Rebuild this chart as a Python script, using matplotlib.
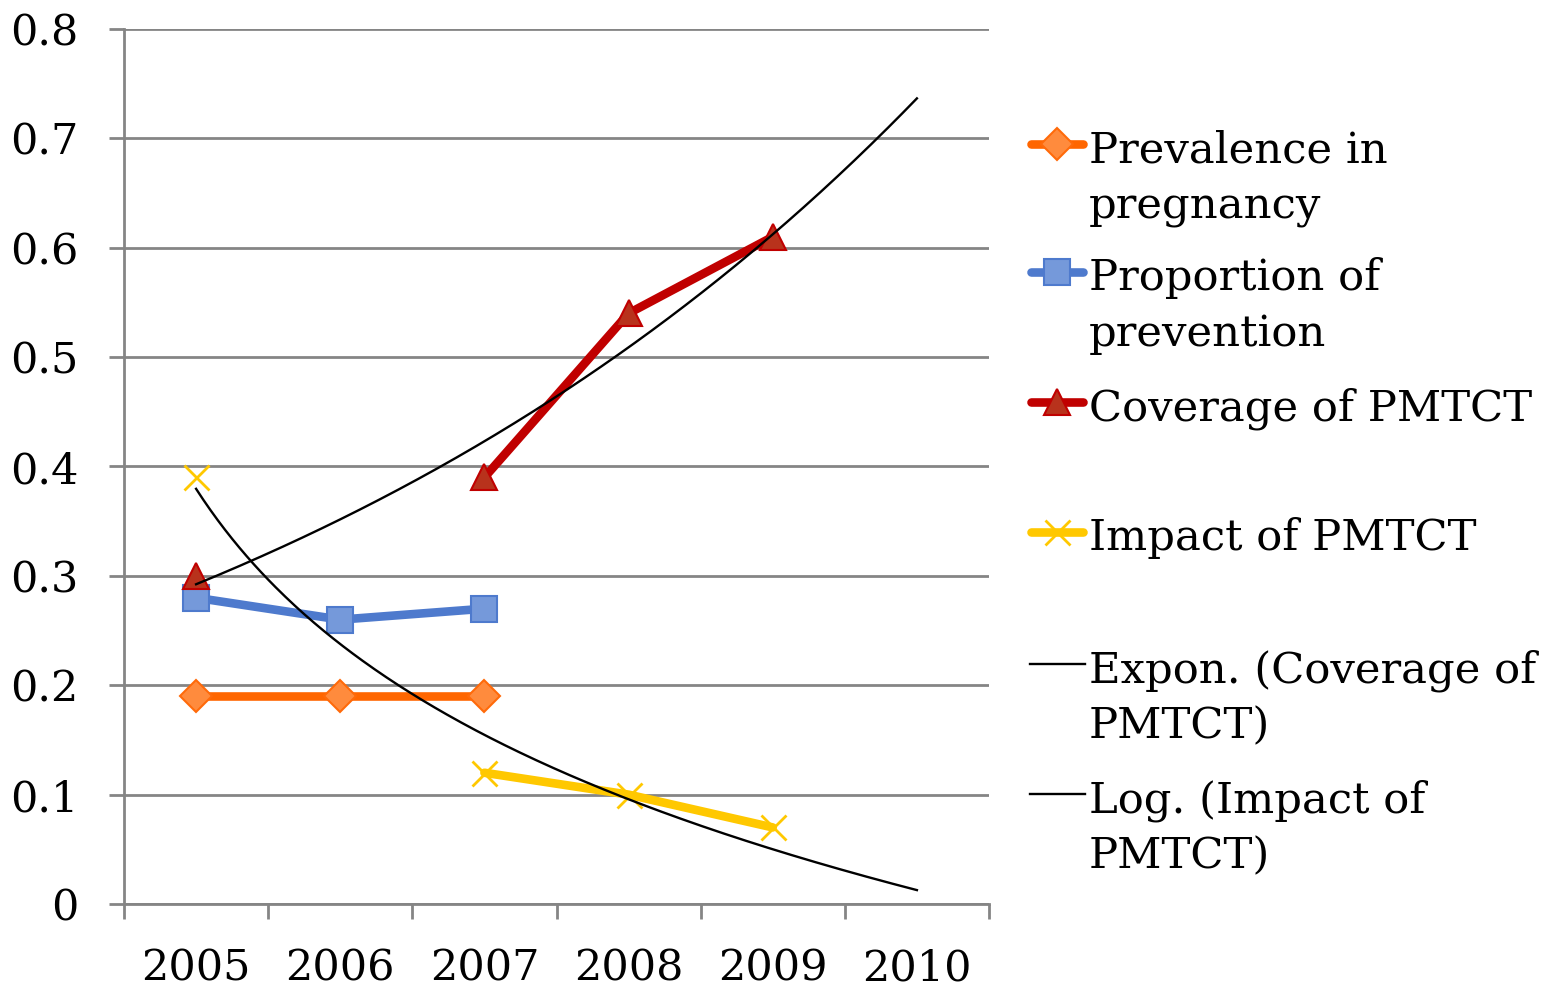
import numpy as np
import matplotlib
matplotlib.use("Agg")
import matplotlib.pyplot as plt
from matplotlib.lines import Line2D

# ---- data ----
years = ["2005", "2006", "2007", "2008", "2009", "2010"]
prevalence = [0.19, 0.19, 0.19, None, None, None]
proportion = [0.28, 0.26, 0.27, None, None, None]
coverage = [0.30, None, 0.39, 0.54, 0.61, None]
impact = [0.39, None, 0.12, 0.10, 0.07, None]
y_ticks = [0.0, 0.1, 0.2, 0.3, 0.4, 0.5, 0.6, 0.7, 0.8]
y_tick_labels = ["0", "0.1", "0.2", "0.3", "0.4", "0.5", "0.6", "0.7", "0.8"]

legend_labels = [
    "Prevalence in\npregnancy",
    "Proportion of\nprevention",
    "Coverage of PMTCT",
    "Impact of PMTCT",
    "Expon. (Coverage of\nPMTCT)",
    "Log. (Impact of\nPMTCT)",
]

W, H, DPI = 1542, 988, 100
plt.rcParams["font.family"] = ["DejaVu Serif"]

fig = plt.figure(figsize=(W / DPI, H / DPI), dpi=DPI)
ax = fig.add_axes([124 / W, 1 - 904 / H, (989 - 124) / W, (904 - 29) / H])

x = np.arange(1, len(years) + 1)

def series_xy(vals):
    xs = np.array([xi for xi, v in zip(x, vals) if v is not None], dtype=float)
    ys = np.array([v for v in vals if v is not None], dtype=float)
    return xs, ys

def segments(vals):
    # consecutive non-missing runs are joined by a line
    runs, cur = [], []
    for xi, v in zip(x, vals):
        if v is None:
            if cur:
                runs.append(cur)
            cur = []
        else:
            cur.append((xi, v))
    if cur:
        runs.append(cur)
    return runs

styles = {
    "prev": dict(color="#FF6600", marker="D", mfc="#FF8B3D", mec="#FF6A0A", ms=16, mew=1.5),
    "prop": dict(color="#4E7ACD", marker="s", mfc="#7599DA", mec="#4E7ACD", ms=18.5, mew=1.5),
    "cov": dict(color="#C00000", marker="^", mfc="#B8321C", mec="#C00000", ms=19, mew=1.5),
    "imp": dict(color="#FFC800", marker="x", mfc="#FFC800", mec="#FFC800", ms=18, mew=2.0),
}
LW = 6.2

series = [("prev", prevalence), ("prop", proportion), ("cov", coverage), ("imp", impact)]
for key, vals in series:
    st = styles[key]
    xs, ys = series_xy(vals)
    for run in segments(vals):
        rx, ry = zip(*run)
        ax.plot(rx, ry, color=st["color"], lw=LW, solid_capstyle="round", zorder=3)
    ax.plot(xs, ys, ls="none", marker=st["marker"], mfc=st["mfc"], mec=st["mec"],
            ms=st["ms"], mew=st["mew"], zorder=4)

# trend lines fitted over the plotted points, extended to the last category
xt = np.linspace(1, len(years), 300)
cx, cy = series_xy(coverage)
b, a = np.polyfit(cx, np.log(cy), 1)
ax.plot(xt, np.exp(a + b * xt), color="black", lw=1.7, zorder=5)
ix, iy = series_xy(impact)
d, c = np.polyfit(np.log(ix), iy, 1)
ax.plot(xt, c + d * np.log(xt), color="black", lw=1.7, zorder=5)

# axes styling
grid_c = "#858585"
ax.set_xlim(0.5, len(years) + 0.5)
ax.set_ylim(0, 0.8)
ax.set_yticks(y_ticks)
ax.set_yticklabels(y_tick_labels)
ax.yaxis.grid(True, color=grid_c, lw=2.0)
ax.set_axisbelow(True)
for s in ["top", "right"]:
    ax.spines[s].set_visible(False)
for s in ["left", "bottom"]:
    ax.spines[s].set_color(grid_c)
    ax.spines[s].set_linewidth(2.0)
    ax.spines[s].set_zorder(2)

ax.set_xticks(np.arange(0.5, len(years) + 1, 1.0))
ax.set_xticklabels([])
ax.set_xticks(x, minor=True)
ax.set_xticklabels(years, minor=True)
ax.tick_params(axis="x", which="major", length=11, width=2.0, color=grid_c)
ax.tick_params(axis="x", which="minor", length=0, pad=31, labelsize=31)
ax.tick_params(axis="y", length=11, width=2.0, color=grid_c, pad=22, labelsize=31)

# legend, drawn in pixel positions on the figure
def fx(px):
    return px / W

def fy(py):
    return 1 - py / H

leg_styles = ["prev", "prop", "cov", "imp", None, None]
baselines = [162, 290, 420, 550, 682, 812]
line_step = 56
for lab, key, base in zip(legend_labels, leg_styles, baselines):
    hy = base - 18
    if key is None:
        fig.add_artist(Line2D([fx(1030), fx(1085)], [fy(hy), fy(hy)], color="black", lw=1.7))
    else:
        st = styles[key]
        fig.add_artist(Line2D([fx(1031), fx(1083)], [fy(hy), fy(hy)], color=st["color"],
                              lw=LW, solid_capstyle="round"))
        fig.add_artist(Line2D([fx(1057)], [fy(hy)], ls="none", marker=st["marker"],
                              mfc=st["mfc"], mec=st["mec"], ms=st["ms"], mew=st["mew"]))
    for k, line in enumerate(lab.split("\n")):
        fig.text(fx(1089), fy(base + k * line_step), line, fontsize=31.2,
                 ha="left", va="baseline")

fig.savefig("out.png", dpi=DPI)
